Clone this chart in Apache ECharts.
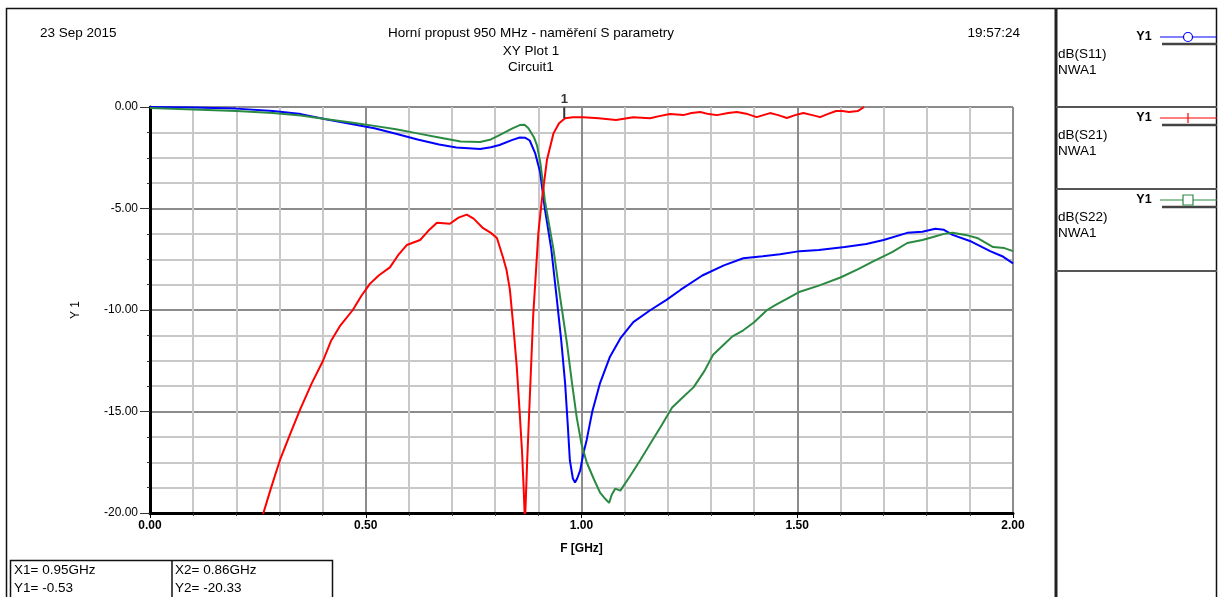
<!DOCTYPE html>
<html>
<head>
<meta charset="utf-8">
<title>Horní propust 950 MHz</title>
<script src="https://cdn.jsdelivr.net/npm/echarts@6.0.0/dist/echarts.min.js"></script>
<style>
  html, body { margin: 0; padding: 0; background: #fff; }
  #chart-container { width: 1223px; height: 597px; }
</style>
</head>
<body>
<div id="chart-container"></div>
<script>
// frequency [GHz] / level [dB]
var s11Freq = [0, 0.1, 0.2, 0.285, 0.35, 0.41, 0.47, 0.52, 0.57, 0.62, 0.67, 0.71, 0.765, 0.79, 0.81, 0.84, 0.857, 0.87, 0.88, 0.893, 0.904, 0.915, 0.93, 0.943, 0.953, 0.962, 0.968, 0.973, 0.98, 0.985, 0.99, 0.997, 1.004, 1.012, 1.025, 1.043, 1.066, 1.09, 1.12, 1.16, 1.197, 1.23, 1.28, 1.33, 1.375, 1.42, 1.46, 1.506, 1.55, 1.61, 1.66, 1.70, 1.755, 1.79, 1.82, 1.84, 1.86, 1.9, 1.947, 1.975, 2.0];
var s11Db = [0, -0.02, -0.08, -0.2, -0.35, -0.62, -0.85, -1.05, -1.32, -1.6, -1.85, -2.0, -2.07, -1.98, -1.87, -1.62, -1.5, -1.52, -1.65, -2.3, -3.2, -5.0, -7.0, -9.5, -11.5, -13.6, -15.6, -17.4, -18.3, -18.5, -18.3, -17.9, -17.1, -16.4, -15.0, -13.6, -12.3, -11.4, -10.6, -10.0, -9.5, -9.0, -8.3, -7.8, -7.45, -7.35, -7.25, -7.1, -7.05, -6.9, -6.75, -6.55, -6.2, -6.15, -6.0, -6.05, -6.3, -6.6, -7.1, -7.35, -7.7];

var s21Freq = [0.26, 0.28, 0.301, 0.325, 0.348, 0.375, 0.401, 0.42, 0.44, 0.47, 0.49, 0.51, 0.53, 0.556, 0.575, 0.595, 0.626, 0.645, 0.665, 0.695, 0.715, 0.734, 0.75, 0.772, 0.79, 0.804, 0.818, 0.826, 0.834, 0.842, 0.85, 0.856, 0.862, 0.866, 0.869, 0.874, 0.88, 0.888, 0.9, 0.908, 0.92, 0.935, 0.948, 0.962, 0.98, 1.004, 1.04, 1.08, 1.12, 1.159, 1.18, 1.205, 1.236, 1.255, 1.275, 1.295, 1.314, 1.34, 1.36, 1.385, 1.406, 1.437, 1.456, 1.476, 1.495, 1.514, 1.535, 1.553, 1.57, 1.59, 1.605, 1.62, 1.64, 1.655];
var s21Db = [-20.2, -18.8, -17.4, -16.1, -14.9, -13.6, -12.5, -11.5, -10.8, -10.0, -9.3, -8.7, -8.3, -7.9, -7.3, -6.8, -6.55, -6.1, -5.7, -5.75, -5.45, -5.3, -5.5, -5.97, -6.2, -6.45, -7.4, -8.0, -9.0, -10.8, -12.8, -14.8, -16.9, -18.8, -20.5, -17.5, -14.4, -10.3, -6.2, -4.6, -2.6, -1.3, -0.8, -0.55, -0.5, -0.5, -0.55, -0.64, -0.5, -0.55, -0.45, -0.35, -0.4, -0.3, -0.25, -0.35, -0.4, -0.3, -0.25, -0.35, -0.5, -0.3, -0.4, -0.54, -0.4, -0.3, -0.4, -0.5, -0.35, -0.2, -0.2, -0.25, -0.2, 0];

var s22Freq = [0, 0.1, 0.2, 0.285, 0.35, 0.41, 0.47, 0.52, 0.57, 0.62, 0.67, 0.72, 0.765, 0.79, 0.81, 0.84, 0.857, 0.868, 0.877, 0.89, 0.897, 0.905, 0.911, 0.915, 0.935, 0.95, 0.966, 0.978, 0.989, 1.0, 1.012, 1.028, 1.043, 1.055, 1.064, 1.07, 1.078, 1.09, 1.112, 1.136, 1.159, 1.185, 1.21, 1.235, 1.26, 1.285, 1.305, 1.33, 1.35, 1.375, 1.40, 1.43, 1.45, 1.48, 1.506, 1.55, 1.6, 1.64, 1.676, 1.72, 1.755, 1.79, 1.815, 1.84, 1.86, 1.89, 1.917, 1.954, 1.98, 2.0];
var s22Db = [-0.05, -0.12, -0.2, -0.3, -0.42, -0.6, -0.78, -0.93, -1.1, -1.3, -1.5, -1.7, -1.72, -1.6, -1.38, -1.05, -0.89, -0.88, -1.05, -1.5, -1.9, -2.8, -3.85, -4.6, -7.0, -9.3, -11.6, -13.6, -15.3, -16.6, -17.5, -18.3, -19.0, -19.3, -19.5, -19.1, -18.8, -18.9, -18.2, -17.4, -16.6, -15.7, -14.8, -14.3, -13.8, -13.0, -12.2, -11.7, -11.3, -11.0, -10.6, -10.0, -9.75, -9.4, -9.1, -8.8, -8.4, -8.0, -7.6, -7.15, -6.7, -6.55, -6.4, -6.25, -6.2, -6.3, -6.45, -6.9, -6.95, -7.1];

var seriesNames = ['dB(S11)', 'dB(S21)', 'dB(S22)'];
var seriesColors = ['#0000ff', '#ff0000', '#2b8a42'];
var markerFreq = 0.96;
var markerDb = -0.53;

function pairs(f, v) {
  return f.map(function (x, i) { return [x, v[i]]; });
}

var myChart = echarts.init(document.getElementById('chart-container'));
var font = '"Liberation Sans", Arial, sans-serif';

function txt(t, x, y, opts) {
  opts = opts || {};
  return {
    type: 'text', silent: true,
    style: {
      text: t, x: x, y: y,
      font: (opts.bold ? 'bold ' : '') + (opts.size || 13.5) + 'px ' + font,
      fill: '#000',
      textAlign: opts.align || 'left',
      verticalAlign: 'middle', textVerticalAlign: 'middle'
    }
  };
}
function seg(x1, y1, x2, y2, color, w) {
  return { type: 'line', silent: true, shape: { x1: x1, y1: y1, x2: x2, y2: y2 }, style: { stroke: color, lineWidth: w } };
}

var graphics = [
  { type: 'rect', silent: true, shape: { x: 6.5, y: 8.5, width: 1210, height: 600 }, style: { fill: 'none', stroke: '#111', lineWidth: 1.5 } },
  seg(1056, 8, 1056, 597, '#222', 3),
  seg(1056, 107, 1217, 107, '#555', 2),
  seg(1056, 189, 1217, 189, '#555', 2),
  seg(1056, 271, 1217, 271, '#555', 2),
  txt('23 Sep 2015', 40, 33),
  txt('Horní propust 950 MHz - naměření S parametry', 531, 33, { align: 'center' }),
  txt('XY Plot 1', 531, 51, { align: 'center' }),
  txt('Circuit1', 531, 67, { align: 'center' }),
  txt('19:57:24', 1020, 33, { align: 'right' }),
  // marker readout box
  { type: 'rect', silent: true, shape: { x: 10.5, y: 560.5, width: 322, height: 45 }, style: { fill: 'none', stroke: '#111', lineWidth: 1.5 } },
  seg(172, 560, 172, 597, '#111', 1.5),
  txt('X1= 0.95GHz', 14, 570),
  txt('Y1= -0.53', 14, 588),
  txt('X2= 0.86GHz', 175, 570),
  txt('Y2= -20.33', 175, 588)
];

// legend panel entries on the right
var legendTop = [37, 118, 200];
legendTop.forEach(function (y, i) {
  graphics.push(txt('Y1', 1144, y, { bold: true, align: 'center', size: 12.5 }));
  graphics.push(seg(1160, y, 1217, y, seriesColors[i], 1.2));
  graphics.push(seg(1162, y + 7, 1217, y + 7, '#444', 2.5));
  graphics.push(txt(seriesNames[i], 1058, y + 17));
  graphics.push(txt('NWA1', 1058, y + 33));
});
graphics.push({ type: 'circle', silent: true, shape: { cx: 1188, cy: 37, r: 4.5 }, style: { fill: '#fff', stroke: seriesColors[0], lineWidth: 1.2 } });
graphics.push(seg(1188, 113, 1188, 123, seriesColors[1], 1.2));
graphics.push({ type: 'rect', silent: true, shape: { x: 1183, y: 195, width: 10, height: 10 }, style: { fill: '#fff', stroke: seriesColors[2], lineWidth: 1.2 } });

var option = {
  backgroundColor: '#fff',
  animation: false,
  textStyle: { fontFamily: font },
  grid: { left: 150, right: 210, top: 107, bottom: 84 },
  xAxis: {
    type: 'value', min: 0, max: 2, interval: 0.5,
    name: 'F [GHz]', nameLocation: 'middle', nameGap: 30,
    nameTextStyle: { fontWeight: 'bold', fontSize: 12, color: '#000' },
    axisLine: { show: true, onZero: false, lineStyle: { color: '#000', width: 3 } },
    axisTick: { show: true, length: 5, lineStyle: { color: '#000', width: 1 } },
    minorTick: { show: true, splitNumber: 5, length: 3, lineStyle: { color: '#333' } },
    axisLabel: { fontWeight: 'bold', fontSize: 12, color: '#000', margin: 7, formatter: function (v) { return v.toFixed(2); } },
    splitLine: { show: true, lineStyle: { color: '#8c8c8c', width: 2 } },
    minorSplitLine: { show: true, lineStyle: { color: '#c8c8c8', width: 2 } }
  },
  yAxis: [{
    type: 'value', min: -20, max: 0, interval: 5,
    name: 'Y 1', nameLocation: 'middle', nameGap: 68, nameRotate: 90,
    nameTextStyle: { fontSize: 12, color: '#000' },
    axisLine: { show: true, onZero: false, lineStyle: { color: '#000', width: 3 } },
    axisTick: { show: true, inside: false, length: 10, lineStyle: { color: '#333', width: 1 } },
    minorTick: { show: true, splitNumber: 4, length: 3, lineStyle: { color: '#333' } },
    axisLabel: { fontSize: 12, color: '#000', margin: 12, formatter: function (v) { return v.toFixed(2); } },
    splitLine: { show: true, lineStyle: { color: '#8c8c8c', width: 2 } },
    minorSplitLine: { show: true, lineStyle: { color: '#c8c8c8', width: 2 } }
  }, {
    type: 'value', min: -20, max: 0, interval: 5, position: 'right',
    axisLine: { show: true, lineStyle: { color: '#000', width: 2 } },
    axisTick: { show: false }, axisLabel: { show: false }, splitLine: { show: false }
  }],
  series: [
    {
      name: seriesNames[0], type: 'line', showSymbol: false, clip: true,
      data: pairs(s11Freq, s11Db),
      lineStyle: { color: seriesColors[0], width: 2 }, itemStyle: { color: seriesColors[0] }
    },
    {
      name: seriesNames[2], type: 'line', showSymbol: false, clip: true,
      data: pairs(s22Freq, s22Db),
      lineStyle: { color: seriesColors[2], width: 2 }, itemStyle: { color: seriesColors[2] }
    },
    {
      name: seriesNames[1], type: 'line', showSymbol: false, clip: true,
      data: pairs(s21Freq, s21Db),
      lineStyle: { color: seriesColors[1], width: 2 }, itemStyle: { color: seriesColors[1] },
      markPoint: {
        symbol: 'rect', symbolSize: [2, 11], symbolOffset: [0, -5],
        itemStyle: { color: '#333' },
        label: { show: true, position: 'top', distance: 1, formatter: '1', fontWeight: 'bold', fontSize: 13, color: '#333' },
        data: [{ coord: [markerFreq, markerDb] }]
      }
    }
  ],
  graphic: graphics
};

myChart.setOption(option);
</script>
</body>
</html>
